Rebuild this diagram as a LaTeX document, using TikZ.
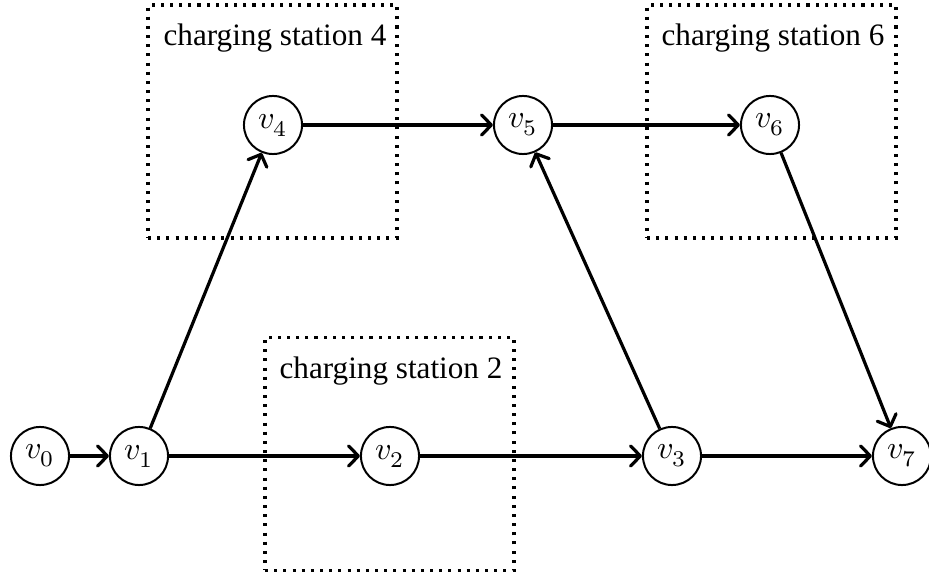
\documentclass[tikz,border=0pt]{standalone}
\usepackage{fontspec}
\setmainfont{Liberation Serif}
\usepackage{unicode-math}
\setmathfont{Latin Modern Math}
\usetikzlibrary{arrows.meta}
\begin{document}
\begin{tikzpicture}[x=0.3272pt, y=-0.3272pt,
  vtx/.style={circle, draw, line width=0.65pt, inner sep=0pt, minimum size=19pt, font=\fontsize{10.5}{12}\selectfont},
  edge/.style={-{Straight Barb[length=3.2pt, width=6.6pt, line width=1.05pt, round]}, line width=1.05pt},
  station/.style={draw, dotted, line width=1pt, minimum width=249*0.3272pt, minimum height=233*0.3272pt, inner sep=0pt},
  label/.style={font=\fontsize{10.2}{12}\selectfont}]
\useasboundingbox (0,0) rectangle (929,573);
% charging stations (dotted regions)
\node[station] (s4) at (272.5,121.5) {};
\node[station] (s6) at (771.5,121.5) {};
\node[station] (s2) at (389.5,454) {};
\node[label] (t4) at (275,38) {charging station 4};
\node[label] (t6) at (773,38) {charging station 6};
\node[label] (t2) at (391,371) {charging station 2};
% vertices
\node[vtx] (v0) at (40,456) {$v_0$};
\node[vtx] (v1) at (139,456) {$v_1$};
\node[vtx] (v2) at (390,456) {$v_2$};
\node[vtx] (v3) at (672,456) {$v_3$};
\node[vtx] (v7) at (902,456) {$v_7$};
\node[vtx] (v4) at (273,125) {$v_4$};
\node[vtx] (v5) at (523,125) {$v_5$};
\node[vtx] (v6) at (770,125) {$v_6$};
% roads
\draw[edge] (v0) -- (v1);
\draw[edge] (v1) -- (v2);
\draw[edge] (v2) -- (v3);
\draw[edge] (v3) -- (v7);
\draw[edge] (v1) -- (v4);
\draw[edge] (v4) -- (v5);
\draw[edge] (v5) -- (v6);
\draw[edge] (v3) -- (v5);
\draw[edge] (v6) -- (v7);
\end{tikzpicture}
\end{document}
